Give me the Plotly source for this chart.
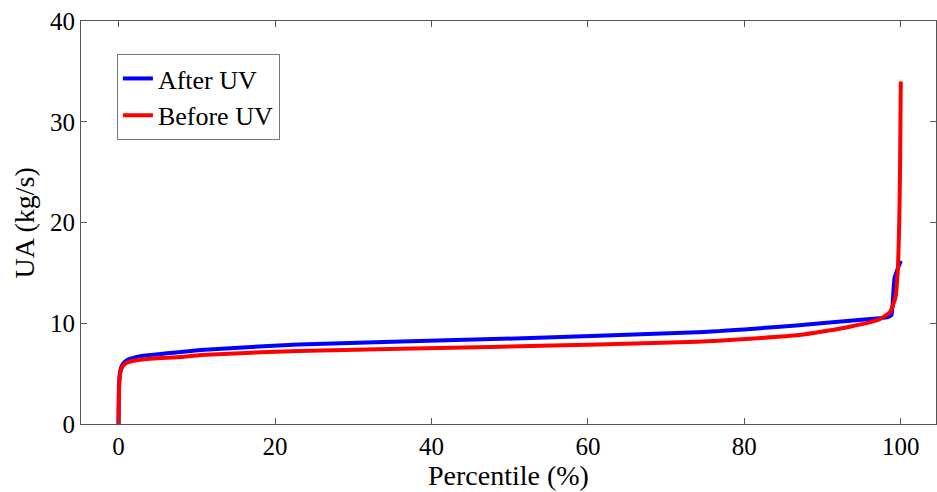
import plotly.graph_objects as go

# After UV
after_pct = [0, 0.05, 0.2, 0.5, 1.1, 3, 8, 10.5, 23, 49, 74, 87, 93.5, 97.3, 98.3, 98.8, 99.0, 99.2, 99.5, 99.8, 100]
after_val = [0, 3.5, 5.2, 5.9, 6.35, 6.75, 7.15, 7.35, 7.9, 8.45, 9.1, 9.8, 10.25, 10.5, 10.6, 10.8, 12.5, 14.5, 15.2, 15.8, 16.2]

# Before UV
before_pct = [0, 0.05, 0.2, 0.5, 1.1, 3, 8, 10.5, 23, 49, 74, 87, 93.5, 97.3, 98.6, 99.3, 99.6, 99.8, 99.9, 100]
before_val = [0, 3, 5, 5.7, 6.1, 6.4, 6.65, 6.85, 7.25, 7.67, 8.17, 8.83, 9.66, 10.4, 11.1, 12.5, 15, 20, 25, 34]

x_ticks = [0, 20, 40, 60, 80, 100]
y_ticks = [0, 10, 20, 30, 40]
x_title = "Percentile (%)"
y_title = "UA (kg/s)"

font = "Liberation Serif, Times New Roman, serif"

fig = go.Figure()
fig.add_trace(go.Scatter(x=after_pct, y=after_val, mode="lines", name="After UV",
                         line=dict(color="#0000ff", width=4, shape="spline", smoothing=0.5),
                         legendgroup="a"))
fig.add_trace(go.Scatter(x=before_pct, y=before_val, mode="lines", name="Before UV",
                         line=dict(color="#ff0000", width=4, shape="spline", smoothing=0.5),
                         legendgroup="b"))

axis_common = dict(showgrid=False, zeroline=False, showline=True, linecolor="#555",
                   linewidth=1, mirror="ticks", ticks="inside", ticklen=6, tickcolor="#555",
                   automargin=False,
                   tickfont=dict(family=font, size=25, color="black"))

fig.update_layout(
    width=937, height=492,
    margin=dict(l=81, r=1, t=21, b=68),
    paper_bgcolor="white", plot_bgcolor="white",
    font=dict(family=font, color="black"),
    xaxis=dict(range=[-4.8, 104.5], tickvals=x_ticks, **axis_common),
    yaxis=dict(range=[0, 40], tickvals=y_ticks, **axis_common),
    legend=dict(x=0.042, y=0.918, xanchor="left", yanchor="top",
                bgcolor="white", bordercolor="#777", borderwidth=1,
                font=dict(family=font, size=26), tracegroupgap=0,
                itemwidth=30),
    annotations=[
        dict(text=x_title, xref="paper", yref="paper", x=0.5, y=-0.128,
             xanchor="center", yanchor="middle", showarrow=False,
             font=dict(family=font, size=28, color="black")),
        dict(text=y_title, xref="paper", yref="paper", x=-0.0655, y=0.5,
             xanchor="center", yanchor="middle", showarrow=False, textangle=-90,
             font=dict(family=font, size=28, color="black")),
    ],
)

fig.write_html("out.html", config={"displayModeBar": False},
               post_script="document.body.style.margin='0px';document.body.style.overflow='hidden';window.dispatchEvent(new Event('resize'));")
